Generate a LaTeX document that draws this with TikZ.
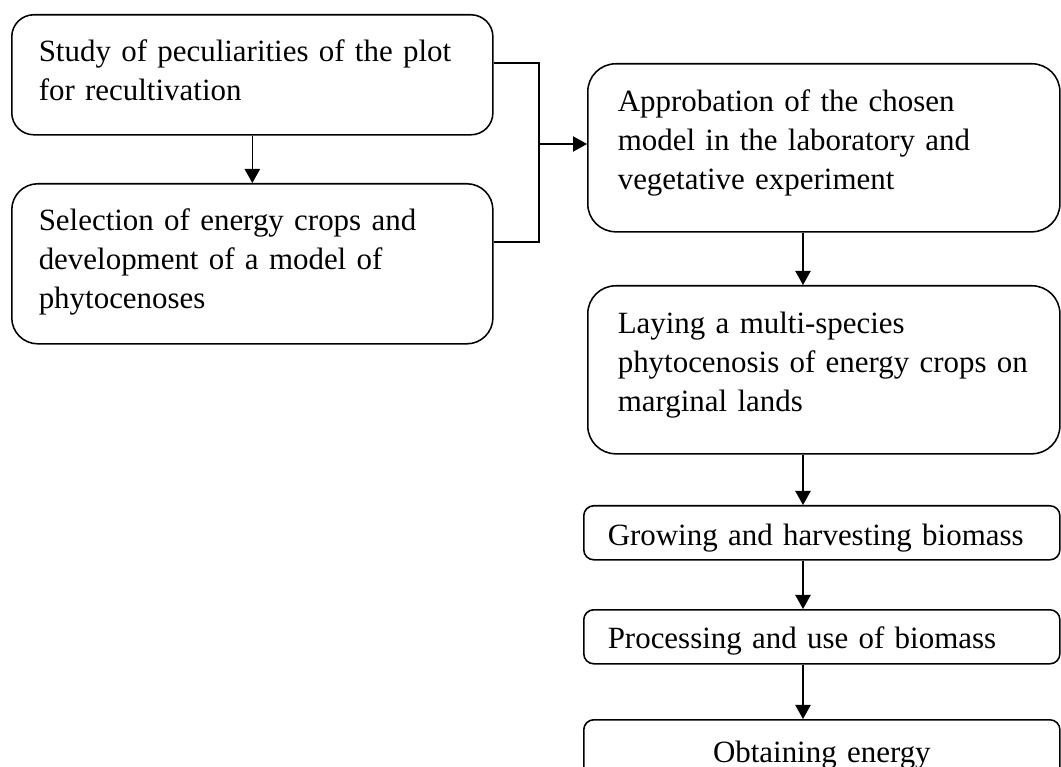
\documentclass[tikz,border=0pt]{standalone}
\usepackage{fontspec}
\setmainfont{Liberation Serif}
\usetikzlibrary{arrows.meta}

\begin{document}
\begin{tikzpicture}[
	x=0.025cm, y=-0.025cm,
	line width=1.1pt,
	font=\fontsize{22}{27.7}\selectfont,
	arr/.style={-{Triangle[length=0.35cm,width=0.38cm]}}
]
\tikzset{
    stage/.style = {draw, align=left, anchor=north west, inner ysep=0pt},
    bigstage/.style = {stage, rounded corners=0.55cm, inner xsep=0.675cm, text width=10.675cm, text height=1.175cm},
    rightstage/.style = {stage, rounded corners=0.7cm, inner xsep=0.75cm, text width=10.3cm, text height=1.2cm, text depth=3cm},
    smallstage/.style = {stage, rounded corners=0.25cm, inner xsep=0.6cm, text width=10.7cm},
}
\useasboundingbox (0,0) rectangle (1061,767);

% left column
\node (study) at (11,14) [bigstage, text depth=1.825cm]
	{Study of peculiarities of the plot\\for recultivation};
\node (select) at (11,183) [bigstage, text depth=2.825cm, rounded corners=0.65cm]
	{Selection of energy crops and\\development of a model of\\phytocenoses};

% right column
\node (approb) at (587,63) [rightstage]
	{Approbation of the chosen\\model in the laboratory and\\vegetative experiment};
\node (laying) at (587,285) [rightstage]
	{Laying a multi-species\\phytocenosis of energy crops on\\marginal lands};
\node (grow) at (583,505) [smallstage, text height=1cm, text depth=0.35cm]
	{Growing and harvesting biomass};
\node (process) at (583,609) [smallstage, text height=0.975cm, text depth=0.375cm]
	{Processing and use of biomass};
\node (energy) at (583,719) [smallstage, align=center, text height=1.075cm, text depth=0.5cm]
	{Obtaining energy};

% connectors
\coordinate (join) at (539,144);
\coordinate (axis) at (803,0);
\draw[arr] (study.south) -- (select.north);
\draw ([yshift=0.3cm]study.east) -| (join);
\draw ([yshift=0.55cm]select.east) -| (join);
\draw[arr] (join) -- (join -| approb.west);
\draw[arr] (approb.south -| axis) -- (laying.north -| axis);
\draw[arr] (laying.south -| axis) -- (grow.north -| axis);
\draw[arr] (grow.south -| axis) -- (process.north -| axis);
\draw[arr] (process.south -| axis) -- (energy.north -| axis);
\end{tikzpicture}
\end{document}
